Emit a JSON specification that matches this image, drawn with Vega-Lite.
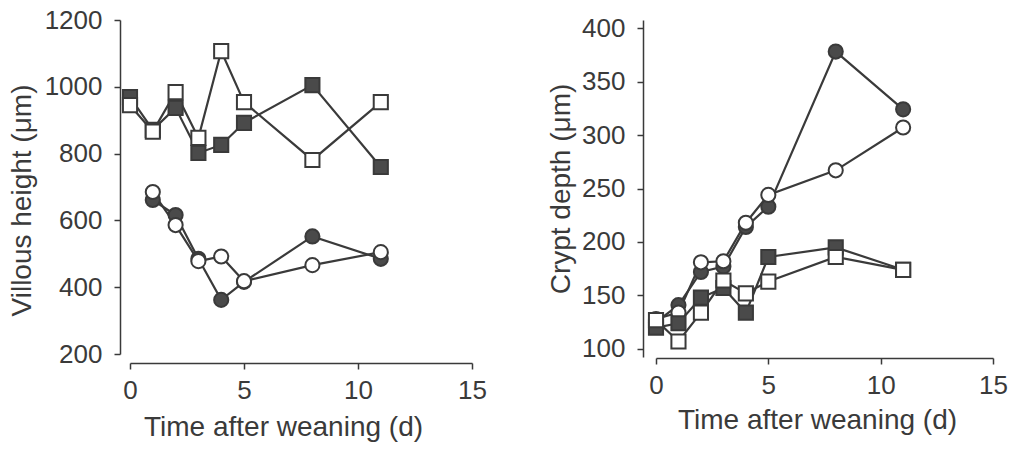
{
  "$schema": "https://vega.github.io/schema/vega-lite/v6.json",
  "padding": {"left": 8, "top": 7, "right": 5, "bottom": 5},
  "background": "white",
  "spacing": 60,
  "config": {
    "view": {"stroke": null},
    "font": "Liberation Sans",
    "axis": {
      "grid": false,
      "domainColor": "#3a3a3a",
      "tickColor": "#3a3a3a",
      "domainWidth": 1.5,
      "tickWidth": 1.5,
      "tickSize": 6,
      "labelColor": "#3a3a3a",
      "titleColor": "#3a3a3a",
      "labelFontSize": 26,
      "titleFontSize": 28,
      "titleFontWeight": "normal",
      "labelFont": "Liberation Sans",
      "titleFont": "Liberation Sans"
    }
  },
  "datasets": {
    "villous": [
      {"day": 1, "value": 661, "marker": "circle", "style": "filled"},
      {"day": 2, "value": 616, "marker": "circle", "style": "filled"},
      {"day": 3, "value": 485, "marker": "circle", "style": "filled"},
      {"day": 4, "value": 362, "marker": "circle", "style": "filled"},
      {"day": 5, "value": 416, "marker": "circle", "style": "filled"},
      {"day": 8, "value": 552, "marker": "circle", "style": "filled"},
      {"day": 11, "value": 485, "marker": "circle", "style": "filled"},
      {"day": 1, "value": 685, "marker": "circle", "style": "open"},
      {"day": 2, "value": 586, "marker": "circle", "style": "open"},
      {"day": 3, "value": 478, "marker": "circle", "style": "open"},
      {"day": 4, "value": 492, "marker": "circle", "style": "open"},
      {"day": 5, "value": 418, "marker": "circle", "style": "open"},
      {"day": 8, "value": 466, "marker": "circle", "style": "open"},
      {"day": 11, "value": 505, "marker": "circle", "style": "open"},
      {"day": 0, "value": 969, "marker": "square", "style": "filled"},
      {"day": 1, "value": 871, "marker": "square", "style": "filled"},
      {"day": 2, "value": 937, "marker": "square", "style": "filled"},
      {"day": 3, "value": 802, "marker": "square", "style": "filled"},
      {"day": 4, "value": 826, "marker": "square", "style": "filled"},
      {"day": 5, "value": 892, "marker": "square", "style": "filled"},
      {"day": 8, "value": 1005, "marker": "square", "style": "filled"},
      {"day": 11, "value": 760, "marker": "square", "style": "filled"},
      {"day": 0, "value": 945, "marker": "square", "style": "open"},
      {"day": 1, "value": 866, "marker": "square", "style": "open"},
      {"day": 2, "value": 984, "marker": "square", "style": "open"},
      {"day": 3, "value": 847, "marker": "square", "style": "open"},
      {"day": 4, "value": 1107, "marker": "square", "style": "open"},
      {"day": 5, "value": 954, "marker": "square", "style": "open"},
      {"day": 8, "value": 781, "marker": "square", "style": "open"},
      {"day": 11, "value": 954, "marker": "square", "style": "open"}
    ],
    "crypt": [
      {"day": 0, "value": 125, "marker": "circle", "style": "filled"},
      {"day": 1, "value": 141, "marker": "circle", "style": "filled"},
      {"day": 2, "value": 172, "marker": "circle", "style": "filled"},
      {"day": 3, "value": 177, "marker": "circle", "style": "filled"},
      {"day": 4, "value": 214, "marker": "circle", "style": "filled"},
      {"day": 5, "value": 233, "marker": "circle", "style": "filled"},
      {"day": 8, "value": 378, "marker": "circle", "style": "filled"},
      {"day": 11, "value": 324, "marker": "circle", "style": "filled"},
      {"day": 0, "value": 128, "marker": "circle", "style": "open"},
      {"day": 1, "value": 134, "marker": "circle", "style": "open"},
      {"day": 2, "value": 181, "marker": "circle", "style": "open"},
      {"day": 3, "value": 182, "marker": "circle", "style": "open"},
      {"day": 4, "value": 218, "marker": "circle", "style": "open"},
      {"day": 5, "value": 244, "marker": "circle", "style": "open"},
      {"day": 8, "value": 267, "marker": "circle", "style": "open"},
      {"day": 11, "value": 307, "marker": "circle", "style": "open"},
      {"day": 0, "value": 120, "marker": "square", "style": "filled"},
      {"day": 1, "value": 124, "marker": "square", "style": "filled"},
      {"day": 2, "value": 148, "marker": "square", "style": "filled"},
      {"day": 3, "value": 157, "marker": "square", "style": "filled"},
      {"day": 4, "value": 134, "marker": "square", "style": "filled"},
      {"day": 5, "value": 186, "marker": "square", "style": "filled"},
      {"day": 8, "value": 195, "marker": "square", "style": "filled"},
      {"day": 11, "value": 174, "marker": "square", "style": "filled"},
      {"day": 0, "value": 127, "marker": "square", "style": "open"},
      {"day": 1, "value": 107, "marker": "square", "style": "open"},
      {"day": 2, "value": 134, "marker": "square", "style": "open"},
      {"day": 3, "value": 164, "marker": "square", "style": "open"},
      {"day": 4, "value": 152, "marker": "square", "style": "open"},
      {"day": 5, "value": 163, "marker": "square", "style": "open"},
      {"day": 8, "value": 186, "marker": "square", "style": "open"},
      {"day": 11, "value": 174, "marker": "square", "style": "open"}
    ]
  },
  "hconcat": [
    {
      "width": 342,
      "height": 334,
      "data": {"name": "villous"},
      "encoding": {
        "x": {"field": "day", "type": "quantitative", "scale": {"domain": [0, 15], "nice": false}, "axis": {"values": [0, 5, 10, 15], "offset": 9, "title": "Time after weaning (d)", "labelPadding": 8, "titlePadding": 10, "labelFlush": false, "titleX": 153}},
        "y": {"field": "value", "type": "quantitative", "scale": {"domain": [200, 1200], "nice": false, "zero": false}, "axis": {"values": [200, 400, 600, 800, 1000, 1200], "format": "d", "offset": 10, "title": "Villous height (μm)", "labelPadding": 12, "titlePadding": 8, "titleY": 180}}
      },
      "layer": [
        {"mark": {"type": "line", "color": "#3a3a3a", "strokeWidth": 2.2}, "encoding": {"detail": [{"field": "marker"}, {"field": "style"}]}},
        {"mark": {"type": "point", "stroke": "#3a3a3a", "strokeWidth": 2, "size": 200, "opacity": 1, "filled": true},
         "encoding": {
           "shape": {"field": "marker", "type": "nominal", "scale": {"domain": ["circle", "square"], "range": ["circle", "square"]}, "legend": null},
           "fill": {"field": "style", "type": "nominal", "scale": {"domain": ["filled", "open"], "range": ["#4a4a4a", "white"]}, "legend": null}
         }}
      ]
    },
    {
      "width": 337,
      "height": 337,
      "data": {"name": "crypt"},
      "encoding": {
        "x": {"field": "day", "type": "quantitative", "scale": {"domain": [0, 15], "nice": false}, "axis": {"values": [0, 5, 10, 15], "offset": 1, "title": "Time after weaning (d)", "labelPadding": 8, "titlePadding": 8, "labelFlush": false, "titleX": 161}},
        "y": {"field": "value", "type": "quantitative", "scale": {"domain": [92.5, 407.5], "nice": false, "zero": false}, "axis": {"values": [100, 150, 200, 250, 300, 350, 400], "format": "d", "offset": 13, "title": "Crypt depth (μm)", "labelPadding": 12, "titlePadding": 6}}
      },
      "layer": [
        {"mark": {"type": "line", "color": "#3a3a3a", "strokeWidth": 2.2}, "encoding": {"detail": [{"field": "marker"}, {"field": "style"}]}},
        {"mark": {"type": "point", "stroke": "#3a3a3a", "strokeWidth": 2, "size": 200, "opacity": 1, "filled": true},
         "encoding": {
           "shape": {"field": "marker", "type": "nominal", "scale": {"domain": ["circle", "square"], "range": ["circle", "square"]}, "legend": null},
           "fill": {"field": "style", "type": "nominal", "scale": {"domain": ["filled", "open"], "range": ["#4a4a4a", "white"]}, "legend": null}
         }}
      ]
    }
  ]
}
